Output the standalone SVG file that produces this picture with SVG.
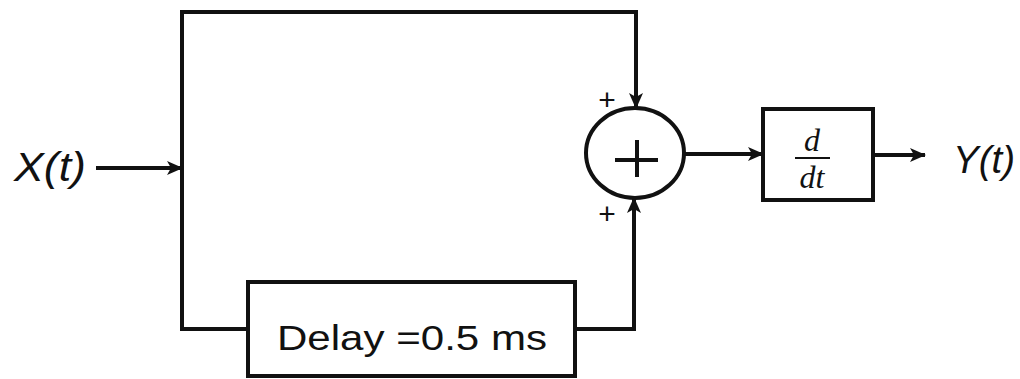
<svg xmlns="http://www.w3.org/2000/svg" width="1020" height="379" viewBox="0 0 1020 379">
<style>
.ln{fill:none;stroke:#111;stroke-width:4;stroke-linejoin:miter}
.bx{fill:#fff;stroke:#111;stroke-width:4}
.lbl{font-family:"Liberation Sans",Arial,sans-serif;fill:#111}
.it{font-style:italic}
.ser{font-family:"Liberation Serif","Times New Roman",serif;font-style:italic;fill:#111}
</style>
<defs>
<marker id="ahb" markerWidth="16" markerHeight="14" refX="15" refY="7" orient="auto" markerUnits="userSpaceOnUse" viewBox="0 0 16 14">
<path d="M0,0 L16,7 L0,14 L4,7 Z" fill="#111"/>
</marker>
</defs>
<rect width="1020" height="379" fill="#fff"/>
<g id="connectors">
<path class="ln" d="M96,168 H182" marker-end="url(#ahb)"/>
<path class="ln" d="M182,168 V12 H636 V108" marker-end="url(#ahb)"/>
<path class="ln" d="M182,168 V329 H248"/>
<path class="ln" d="M575,329 H634 V198" marker-end="url(#ahb)"/>
<path class="ln" d="M685,154 H763" marker-end="url(#ahb)"/>
<path class="ln" d="M873,155 H925" marker-end="url(#ahb)"/>
</g>
<g id="input">
<text class="lbl it" x="14" y="181" font-size="40" textLength="72" lengthAdjust="spacingAndGlyphs">X(t)</text>
</g>
<g id="summer">
<ellipse class="bx" cx="635" cy="153" rx="49" ry="45"/>
<path class="ln" d="M615,160 H658 M637,140 V177"/>
<text class="lbl" x="607" y="110" font-size="30" text-anchor="middle">+</text>
<text class="lbl" x="607" y="224" font-size="30" text-anchor="middle">+</text>
</g>
<g id="diff">
<rect class="bx" x="763" y="109" width="110" height="91"/>
<text class="ser" x="812" y="151" font-size="32" text-anchor="middle">d</text>
<path d="M795,158 H830" stroke="#111" stroke-width="2"/>
<text class="ser" x="812" y="188" font-size="32" text-anchor="middle">dt</text>
</g>
<g id="delay">
<rect class="bx" x="248" y="282" width="327" height="94"/>
<text class="lbl" x="277" y="350" font-size="35" textLength="270" lengthAdjust="spacingAndGlyphs">Delay =0.5 ms</text>
</g>
<g id="output">
<text class="lbl it" x="953" y="173" font-size="38" textLength="62" lengthAdjust="spacingAndGlyphs">Y(t)</text>
</g>
</svg>
